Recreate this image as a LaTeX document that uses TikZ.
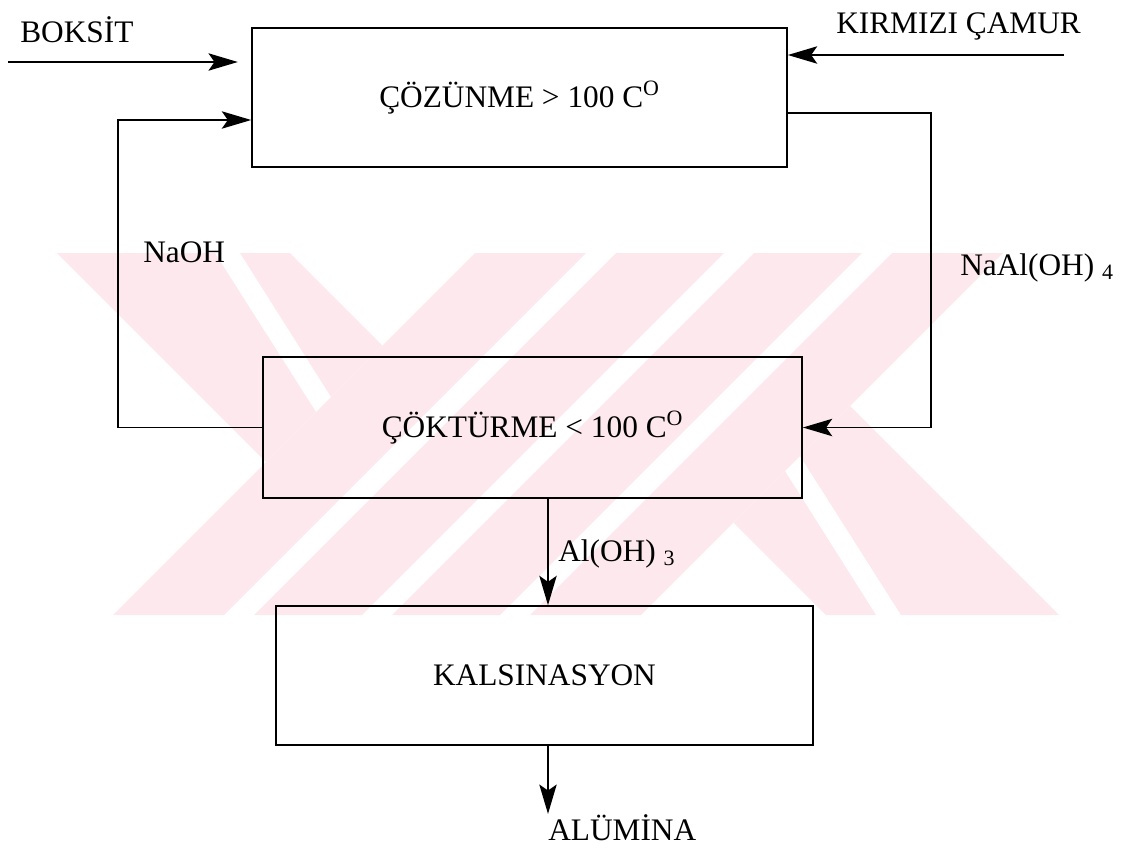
\documentclass[tikz,border=0pt]{standalone}
\usepackage{fontspec}
\setmainfont{Liberation Serif}
\usetikzlibrary{arrows.meta,calc}

\definecolor{wmpink}{RGB}{253,233,237}

\begin{document}
\begin{tikzpicture}[
  x=0.75pt, y=-0.75pt,
  font=\fontsize{23.5}{28}\selectfont,
  >={Stealth[length=22pt,width=13pt,inset=4.5pt]},
  procbox/.style={rectangle, draw=black, line width=1.5pt, inner sep=2pt},
  flowmap/.style={->, draw=black, line width=1.4pt},
  flowlbl/.style={anchor=base west, inner sep=0pt},
  wmark/.style={fill=wmpink, draw=none}
]
  \useasboundingbox (0,0) rectangle (1122,850);
  \fill[wmark] (475,253) -- (586,253) -- (224,615) -- (113,615) -- cycle;
  \fill[wmark] (616,253) -- (724,253) -- (362,615) -- (254,615) -- cycle;
  \fill[wmark] (754,253) -- (862,253) -- (500,615) -- (392,615) -- cycle;
  \fill[wmark] (892,253) -- (1003,253) -- (641,615) -- (530,615) -- cycle;
  \fill[wmark] (57,253) -- (215,253) -- (316,412) -- (266,462) -- cycle;
  \fill[wmark] (240,253) -- (290,253) -- (382.5,345.5) -- (331,397) -- cycle;
  \fill[wmark] (1059,615) -- (901,615) -- (800,456) -- (850,406) -- cycle;
  \fill[wmark] (876,615) -- (826,615) -- (733.5,522.5) -- (785,471) -- cycle;

  \node[procbox, minimum width=401pt, minimum height=104pt] (cozunme) at (519.5,97.5) {ÇÖZÜNME > 100 C\textsuperscript{O}};
  \node[procbox, minimum width=404pt, minimum height=106pt] (cokturme) at (532.5,427.5) {ÇÖKTÜRME < 100 C\textsuperscript{O}};
  \node[procbox, minimum width=403pt, minimum height=104pt] (kalsinasyon) at (544.5,675.5) {KALSINASYON};

  \node[flowlbl] (boksit) at (20,42) {BOKSİT};
  \node[flowlbl] (camur) at (836,33) {KIRMIZI ÇAMUR};
  \node[flowlbl] (naoh) at (143,262) {NaOH};
  \node[flowlbl] (naaloh) at (960,275) {NaAl(OH) \textsubscript{4}};
  \node[flowlbl] (aloh) at (558,561) {Al(OH) \textsubscript{3}};
  \node[flowlbl] (alumina) at (548,840) {ALÜMİNA};

  \coordinate (boksitin) at (8,62);
  \coordinate (camurin) at (1064,55);
  \coordinate (naohbend) at (118,427.5);
  \coordinate (alohbend) at (931,427.5);
  \coordinate (dropx) at (548,0);

  \draw[flowmap, shorten >=10pt] (boksitin) -- (boksitin -| cozunme.west);
  \draw[flowmap] (camurin) -- (camurin -| cozunme.east);
  \draw[flowmap] (cokturme.west) -- (naohbend) |- ($(cozunme.west)+(0,22.5)$);
  \draw[flowmap] ($(cozunme.east)+(0,15.5)$) -| (alohbend) -- (cokturme.east);
  \draw[flowmap] (cokturme.south -| dropx) -- (kalsinasyon.north -| dropx);
  \draw[flowmap] (kalsinasyon.south -| alumina.north west) -- (alumina.north west);
\end{tikzpicture}
\end{document}
